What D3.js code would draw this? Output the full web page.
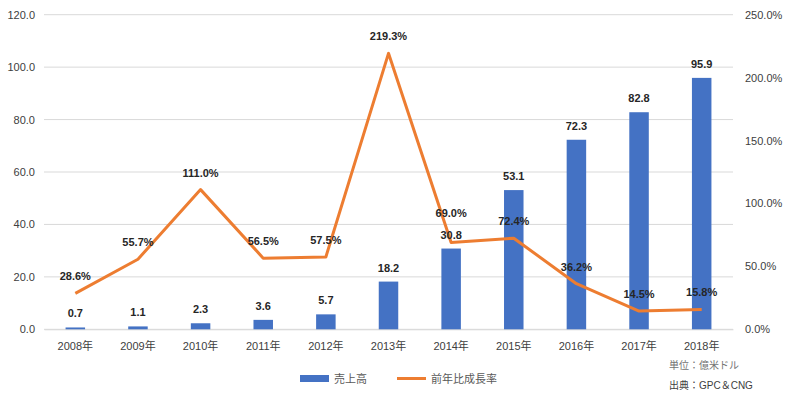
<!DOCTYPE html>
<html><head><meta charset="utf-8">
<script src="https://cdn.jsdelivr.net/npm/d3@7"></script>
<style>
body{margin:0;background:#fff;}
text{font-family:"Liberation Sans","Noto Sans CJK JP",sans-serif;}
</style></head>
<body>
<svg id="c" width="787" height="394"></svg>
<script>
const categories = ["2008年","2009年","2010年","2011年","2012年","2013年","2014年","2015年","2016年","2017年","2018年"];
const sales = [0.7,1.1,2.3,3.6,5.7,18.2,30.8,53.1,72.3,82.8,95.9];
const growth = [28.6,55.7,111.0,56.5,57.5,219.3,69.0,72.4,36.2,14.5,15.8];
const leftTicks = [0,20,40,60,80,100,120];
const rightTicks = [0,50,100,150,200,250];
const seriesNames = ["売上高","前年比成長率"];
const notes = ["単位：億米ドル","出典：GPC＆CNG"];

const svg = d3.select("#c");
const L = 44, R = 733, T = 14.7, B = 329.3;
const x = d3.scaleBand().domain(categories).range([L,R]);
const yL = d3.scaleLinear().domain([0,120]).range([B,T]);
const yR = d3.scaleLinear().domain([0,250]).range([B,T]);
const barColor = "#4472C4", lineColor = "#ED7D31";

// gridlines
svg.append("g").selectAll("line").data(leftTicks).join("line")
  .attr("x1",L).attr("x2",R).attr("y1",d=>yL(d)).attr("y2",d=>yL(d))
  .attr("stroke","#d9d9d9").attr("stroke-width",1);

// left axis
const gl = svg.append("g").attr("transform",`translate(${L},0)`)
  .call(d3.axisLeft(yL).tickValues(leftTicks).tickFormat(d3.format(".1f")).tickSize(0).tickPadding(9));
gl.select(".domain").remove();
gl.selectAll("text").attr("font-size",11).attr("fill","#404040");

// right axis
const gr = svg.append("g").attr("transform",`translate(${R},0)`)
  .call(d3.axisRight(yR).tickValues(rightTicks).tickFormat(d=>d.toFixed(1)+"%").tickSize(0).tickPadding(12));
gr.select(".domain").remove();
gr.selectAll("text").attr("font-size",11).attr("fill","#404040");

// x axis
const gx = svg.append("g").attr("transform",`translate(0,${B})`)
  .call(d3.axisBottom(x).tickSize(0).tickPadding(13));
gx.select(".domain").attr("stroke","#d9d9d9");
gx.selectAll("text").attr("font-size",11).attr("fill","#404040");

// bars
const bw = 19.5;
svg.append("g").selectAll("rect").data(sales).join("rect")
  .attr("x",(d,i)=>x(categories[i])+x.bandwidth()/2-bw/2)
  .attr("width",bw)
  .attr("y",d=>yL(d)).attr("height",d=>B-yL(d))
  .attr("fill",barColor);

// line
const line = d3.line().x((d,i)=>x(categories[i])+x.bandwidth()/2).y(d=>yR(d));
svg.append("path").datum(growth).attr("d",line)
  .attr("fill","none").attr("stroke",lineColor).attr("stroke-width",3).attr("stroke-linejoin","round");

// bar labels
svg.append("g").selectAll("text").data(sales).join("text")
  .attr("x",(d,i)=>x(categories[i])+x.bandwidth()/2)
  .attr("y",d=>yL(d)-10)
  .attr("text-anchor","middle").attr("font-size",11).attr("font-weight","bold").attr("fill","#262626")
  .text(d=>d.toFixed(1));

// line labels
svg.append("g").selectAll("text").data(growth).join("text")
  .attr("x",(d,i)=>x(categories[i])+x.bandwidth()/2)
  .attr("y",(d,i)=>yR(d)-(i===6?25:13))
  .attr("text-anchor","middle").attr("font-size",11).attr("font-weight","bold").attr("fill","#262626")
  .text(d=>d.toFixed(1)+"%");

// legend
const lg = svg.append("g");
lg.append("rect").attr("x",300).attr("y",375).attr("width",29).attr("height",7).attr("fill",barColor);
lg.append("text").attr("x",334).attr("y",382.5).attr("font-size",11).attr("fill","#595959").text(seriesNames[0]);
lg.append("line").attr("x1",397).attr("x2",426).attr("y1",378.5).attr("y2",378.5).attr("stroke",lineColor).attr("stroke-width",3);
lg.append("text").attr("x",431).attr("y",382.5).attr("font-size",11).attr("fill","#595959").text(seriesNames[1]);

// notes
svg.append("g").selectAll("text").data(notes).join("text")
  .attr("x",669).attr("y",(d,i)=>369+i*20)
  .attr("font-size",10).attr("fill",(d,i)=>i===0?"#737373":"#404040").text(d=>d);
</script>
</body></html>
